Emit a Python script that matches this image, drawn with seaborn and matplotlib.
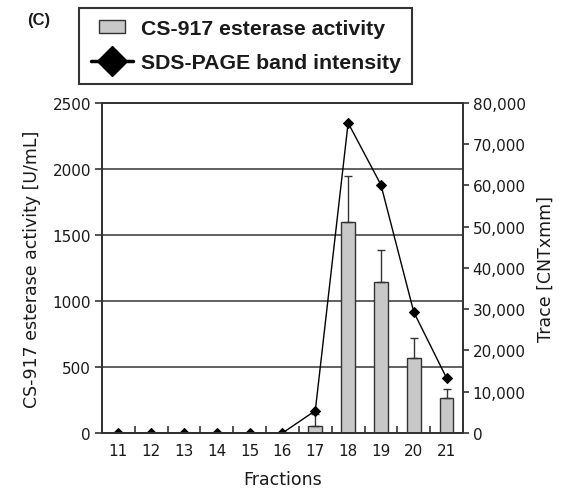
import numpy as np
import pandas as pd
import matplotlib
matplotlib.use("Agg")
import matplotlib.pyplot as plt
from matplotlib.lines import Line2D
from matplotlib.patches import Patch, Rectangle
from matplotlib.legend_handler import HandlerPatch
from matplotlib.ticker import FuncFormatter, FixedLocator
import seaborn as sns

fractions = ["11", "12", "13", "14", "15", "16", "17", "18", "19", "20", "21"]
activity = [0, 0, 0, 0, 0, 0, 52, 1600, 1146, 568, 267]
activity_err = [0, 0, 0, 0, 0, 0, 90, 345, 240, 150, 66]
band_intensity = [0, 0, 0, 0, 0, 0, 5400, 75100, 60100, 29300, 13300]

sns.set_theme(style="white")
plt.rcParams['font.family'] = ['DejaVu Sans']
TXT = "#1a1a1a"
SPINE = "#333333"

df = pd.DataFrame({"Fraction": fractions, "Activity": activity,
                   "Err": activity_err, "Band": band_intensity})

fig = plt.figure(figsize=(5.73, 5.02), dpi=100)
ax = fig.add_axes([0.178, 0.1355, 0.630, 0.658])

ax.set_axisbelow(True)
ax.yaxis.grid(True, color="#606060", linewidth=1.4)
sns.barplot(data=df, x="Fraction", y="Activity", ax=ax, color="#c8c8c8",
            edgecolor="#333333", linewidth=1.0, width=0.42, saturation=1,
            errorbar=None, zorder=2)
pos = np.arange(len(fractions))
mask = np.array(activity_err) > 0
ax.errorbar(pos[mask], np.array(activity)[mask],
            yerr=[np.zeros(mask.sum()), np.array(activity_err)[mask]],
            fmt="none", ecolor="#333333", elinewidth=1.0, capsize=3, capthick=1.0, zorder=3)

ax.set_ylim(0, 2500)
ax.set_yticks([0, 500, 1000, 1500, 2000, 2500])
ax.set_xlim(-0.5, len(fractions) - 0.5)

ax2 = ax.twinx()
sns.pointplot(data=df, x="Fraction", y="Band", ax=ax2, color="black",
              markers="D", linestyles="-", errorbar=None,
              markersize=5.5, linewidth=1.0)
ax2.set_ylim(0, 80000)
ax2.set_yticks(np.arange(0, 80001, 10000))
ax2.yaxis.set_major_formatter(FuncFormatter(lambda v, p: f"{int(v):,}"))
ax2.set_xlim(-0.5, len(fractions) - 0.5)

for a in (ax, ax2):
    for s in a.spines.values():
        s.set_color(SPINE)
        s.set_linewidth(1.3)

ax.tick_params(axis="x", which="major", length=0, pad=7, labelsize=11, labelcolor=TXT)
ax.xaxis.set_minor_locator(FixedLocator(np.arange(-0.5, len(fractions), 1.0)))
ax.tick_params(axis="x", which="minor", direction="in", length=5, width=1.2,
               color=SPINE, bottom=True)
ax.tick_params(axis="y", direction="out", length=5, width=1.2, color=SPINE,
               labelsize=11, labelcolor=TXT, left=True, pad=3)
ax2.tick_params(axis="y", direction="out", length=4, width=1.2, color=SPINE,
                labelsize=11, labelcolor=TXT, right=True, pad=3)

ax.set_xlabel("Fractions", fontsize=12.5, color=TXT, labelpad=9)
ax.set_ylabel("CS-917 esterase activity [U/mL]", fontsize=12.5, color=TXT, labelpad=8)
ax2.set_ylabel("Trace [CNTxmm]", fontsize=12.5, color=TXT, labelpad=8)


def small_rect(legend, orig_handle, xdescent, ydescent, width, height, fontsize):
    w = width * 0.62
    h = height * 0.9
    return Rectangle((-xdescent + (width - w) / 2, -ydescent + (height - h) / 2), w, h)


handles = [
    Patch(facecolor="#c8c8c8", edgecolor="#333333", linewidth=1.0),
    Line2D([0], [0], color="black", linewidth=2.5, marker="D", markersize=15),
]
leg = fig.legend(handles, ["CS-917 esterase activity", "SDS-PAGE band intensity"],
                 loc="upper left", bbox_to_anchor=(0.138, 0.983),
                 prop={"family": "Liberation Sans", "weight": "bold", "size": 15.3},
                 frameon=True, fancybox=False, edgecolor="black",
                 handlelength=2.0, handletextpad=0.35, borderpad=0.55,
                 labelspacing=0.7, borderaxespad=0,
                 handler_map={Patch: HandlerPatch(patch_func=small_rect)})
leg.get_frame().set_linewidth(1.5)
for t in leg.get_texts():
    t.set_color(TXT)

fig.text(0.047, 0.96, "(C)", fontsize=12, fontweight="bold", family="Liberation Sans",
         color=TXT, va="center")

fig.savefig("out.png", dpi=100)
